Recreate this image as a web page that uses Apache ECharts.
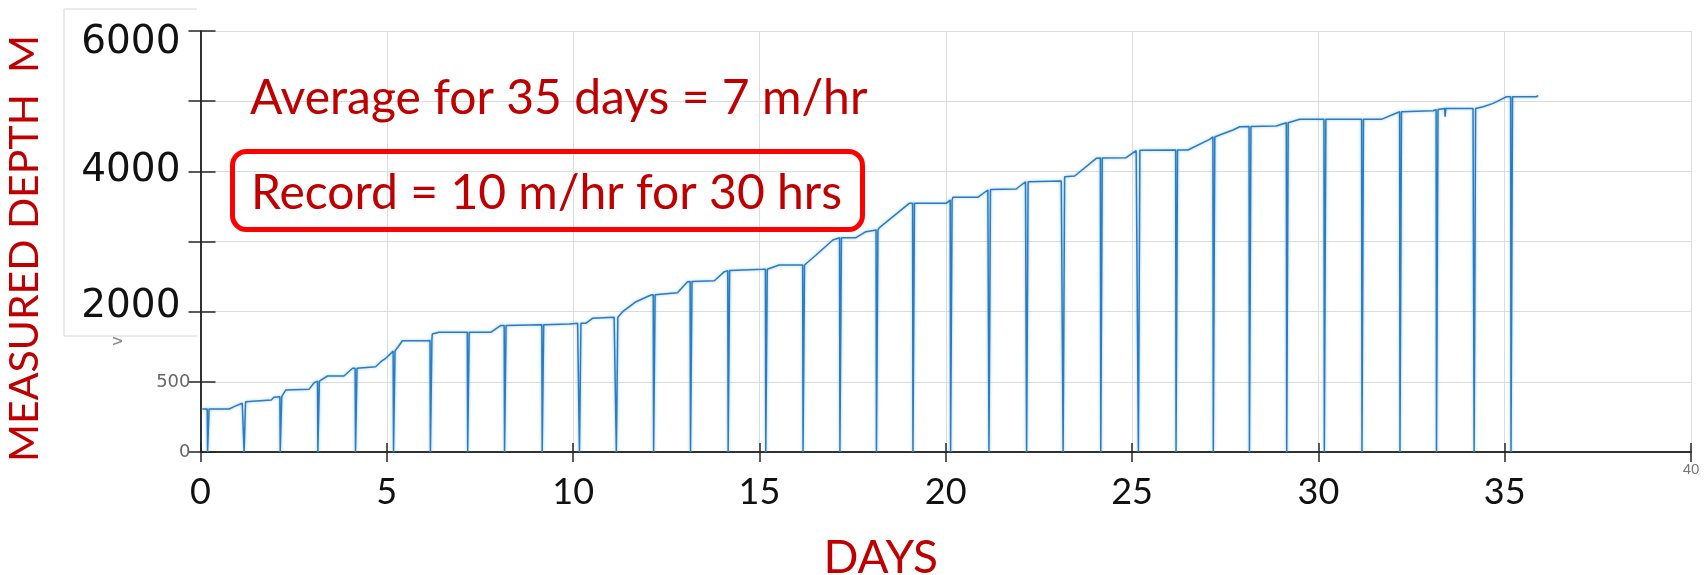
<!DOCTYPE html>
<html>
<head>
<meta charset="utf-8">
<script src="https://cdn.jsdelivr.net/npm/echarts@6/dist/echarts.min.js"></script>
<style>
html,body{margin:0;padding:0;background:#fff;}
#chart{width:1705px;height:575px;}
</style>
</head>
<body>
<div id="chart"></div>
<script>
// ---- data ----
const xTickLabels = ['0','5','10','15','20','25','30','35','40'];
const yTickLabels = ['0','500','2000','','4000','','6000'];

// drilling profile (day, measured depth)
const profileDays = [0.05,0.77,0.90,1.12,1.21,1.90,1.97,2.17,2.29,2.91,3.05,3.16,3.41,3.85,4.08,4.70,4.84,4.97,5.11,5.42,6.09,6.22,6.40,7.79,8.06,9.90,10.12,10.34,10.52,11.10,11.33,11.69,12.09,12.80,13.07,13.79,14.06,14.19,15.09,15.53,16.16,16.52,16.97,17.15,17.59,17.86,18.13,18.22,19.02,20.01,20.19,20.86,21.13,21.89,22.14,23.10,23.19,23.46,24.04,24.84,25.11,26.50,27.08,27.13,27.35,27.71,27.89,28.87,29.14,29.50,31.69,32.18,33.08,33.26,33.39,33.40,33.42,34.15,34.42,34.69,34.96,35.05,35.85,35.90];
const profileDepth = [613,613,646,694,741,741,779,788,884,893,988,1017,1083,1083,1193,1216,1287,1335,1406,1586,1586,1682,1706,1706,1803,1824,1834,1834,1905,1919,2000,2142,2237,2270,2427,2441,2570,2594,2603,2665,2665,2807,3021,3054,3054,3140,3164,3197,3544,3544,3629,3629,3734,3748,3852,3862,3923,3933,4185,4194,4294,4304,4456,4484,4518,4589,4636,4646,4693,4741,4741,4850,4864,4897,4897,4778,4897,4897,4921,4969,5040,5063,5063,5078];

// daily drops of the trace to zero (day, depth just before the drop)
const dropDays  = [0.18,1.16,2.13,3.14,4.15,5.17,6.16,7.16,8.15,9.16,10.16,11.15,12.15,13.14,14.15,15.16,16.16,17.15,18.13,19.11,20.12,21.15,22.16,23.14,24.15,25.16,26.17,27.17,28.14,29.14,30.15,31.16,32.18,33.16,34.17,35.16];
const dropDepth = [613,715,788,1010,1195,1440,1590,1706,1803,1812,1834,1919,2240,2430,2585,2605,2665,3054,3164,3544,3590,3740,3852,3890,4190,4300,4304,4490,4640,4693,4741,4741,4850,4880,4897,5063];

// ---- build the line ----
const groups = [];
profileDays.forEach((d, i) => groups.push({t: d, order: 0, pts: [[d, profileDepth[i]]]}));
dropDays.forEach((d, i) => {
  const v = dropDepth[i];
  groups.push({t: d, order: 1, pts: [[d, v], [d + 0.01, 0], [d + 0.04, 0], [d + 0.05, v]]});
});
groups.sort((a, b) => a.t - b.t || a.order - b.order);
const lineData = [];
groups.forEach(g => g.pts.forEach(p => lineData.push(p)));

const red = '#C00000';
const axisCol = '#262626';
const gridCol = '#dcdcdc';

const chart = echarts.init(document.getElementById('chart'), null, {renderer: 'canvas'});
chart.setOption({
  animation: false,
  backgroundColor: '#ffffff',
  grid: {left: 200.5, right: 14, top: 31, bottom: 123, containLabel: false, outerBoundsMode: 'none'},
  xAxis: [{
    type: 'value', min: 0, max: 40, interval: 5, position: 'bottom',
    name: 'DAYS', nameLocation: 'middle', nameGap: 83,
    nameTextStyle: {color: red, fontSize: 46, fontFamily: 'Lato', padding: [0, 130, 0, 0]},
    axisLine: {show: true, lineStyle: {color: axisCol, width: 1.5}},
    axisTick: {show: true, inside: true, length: 9, lineStyle: {color: axisCol, width: 1.5}},
    splitLine: {show: true, lineStyle: {color: gridCol, width: 1}},
    axisLabel: {
      margin: 2,
      formatter: function (v) {
        const i = Math.round(v / 5);
        const s = xTickLabels[i] || '';
        return i === xTickLabels.length - 1 ? '{small|' + s + '}' : '{big|' + s + '}';
      },
      rich: {
        big: {fontSize: 36, fontFamily: 'Lato', color: '#111', padding: [20, 0, 0, 0]},
        small: {fontSize: 15, fontFamily: 'Liberation Sans', color: '#777', padding: [8, 0, 0, 0]}
      }
    }
  }, {
    type: 'value', min: 0, max: 40, interval: 5, position: 'top',
    axisLine: {show: true, lineStyle: {color: axisCol, width: 1.5}},
    axisTick: {show: true, inside: true, length: 10, lineStyle: {color: axisCol, width: 1.5}},
    splitLine: {show: false},
    axisLabel: {show: false}
  }],
  yAxis: [{
    type: 'value', min: 0, max: 6000, interval: 1000, position: 'left',
    name: 'MEASURED DEPTH  M', nameLocation: 'middle', nameGap: 155, nameRotate: 90,
    nameTextStyle: {color: red, fontSize: 41, fontFamily: 'Lato', padding: [0, 14, 0, 0]},
    axisLine: {show: true, lineStyle: {color: axisCol, width: 1.5}},
    axisTick: {show: true, inside: true, length: 15, lineStyle: {color: axisCol, width: 1.5}},
    splitLine: {show: true, lineStyle: {color: gridCol, width: 1}},
    axisLabel: {
      margin: 10,
      formatter: function (v) {
        const i = Math.round(v / 1000);
        const s = yTickLabels[i] || '';
        if (!s) return '';
        if (i <= 1) return '{small|' + s + '}';
        if (i === 6) return '{bigTop|' + s + '}';
        if (i === 2) return '{bigUp|' + s + '}';
        return '{big|' + s + '}';
      },
      rich: {
        big: {fontSize: 39, fontFamily: 'DejaVu Sans', color: '#111', padding: [0, 10, 0, 0]},
        bigTop: {fontSize: 39, fontFamily: 'DejaVu Sans', color: '#111', padding: [24, 10, 0, 0]},
        bigUp: {fontSize: 39, fontFamily: 'DejaVu Sans', color: '#111', padding: [0, 10, 10, 0]},
        small: {fontSize: 18, fontFamily: 'DejaVu Sans', color: '#666'}
      }
    }
  }, {
    type: 'value', min: 0, max: 6000, interval: 1000, position: 'right',
    axisLine: {show: true, lineStyle: {color: axisCol, width: 1.5}},
    axisTick: {show: true, inside: true, length: 12, lineStyle: {color: axisCol, width: 1.5}},
    splitLine: {show: false},
    axisLabel: {show: false}
  }],
  series: [{
    type: 'line',
    xAxisIndex: 0, yAxisIndex: 0,
    data: lineData,
    showSymbol: false,
    symbol: 'none',
    sampling: 'none',
    lineStyle: {color: '#2a7dc2', width: 1.5, shadowColor: 'rgba(110,175,230,0.7)', shadowBlur: 3},
    z: 3
  }],
  graphic: [
    {type: 'rect', z: -1, shape: {x: 64, y: 9, width: 133, height: 327}, style: {fill: '#ffffff'}},
    {type: 'polyline', z: 1, shape: {points: [[197, 9], [64, 9], [64, 336], [197, 336]]}, style: {stroke: '#d6d6d6', lineWidth: 1, fill: null}},
    {type: 'text', z: 5, x: 118, y: 341, rotation: Math.PI / 2, style: {text: 'v', fontSize: 16, fontFamily: 'DejaVu Sans', fill: '#888', align: 'center', verticalAlign: 'middle'}},
    {type: 'text', z: 5, x: 250, y: 99, style: {text: 'Average for 35 days = 7 m/hr', fontSize: 48, fontFamily: 'Lato', fill: red, verticalAlign: 'middle'}},
    {type: 'rect', z: 5, shape: {x: 232.5, y: 151.5, width: 630, height: 78, r: 14}, style: {fill: null, stroke: '#FF0000', lineWidth: 5}},
    {type: 'text', z: 5, x: 251, y: 194, style: {text: 'Record = 10 m/hr for 30 hrs', fontSize: 48, fontFamily: 'Lato', fill: red, verticalAlign: 'middle'}}
  ]
});
</script>
</body>
</html>
